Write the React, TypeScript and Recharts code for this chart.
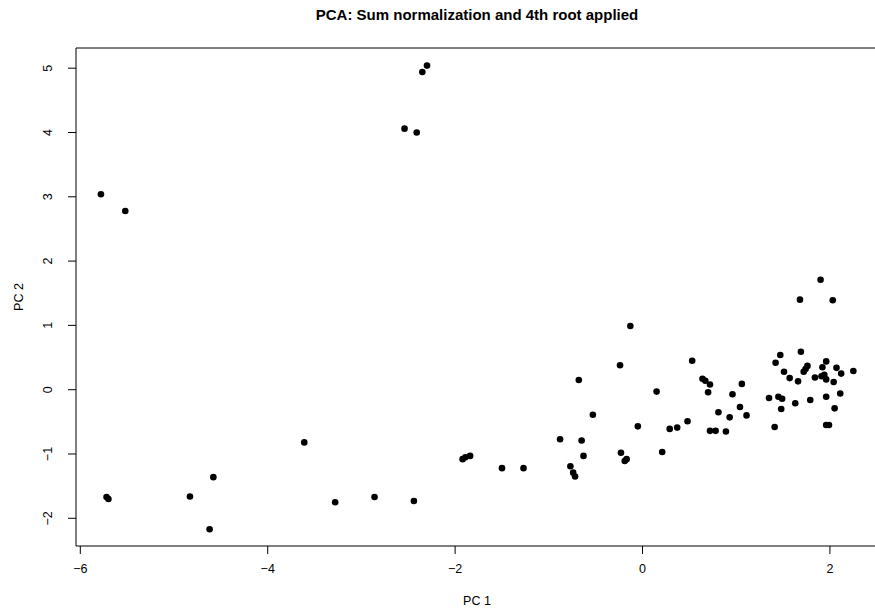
import React from 'react';
import { ScatterChart, Scatter, XAxis, YAxis, ReferenceArea } from 'recharts';

// PCA scores
const pc1 = [
  -5.78, -5.52,
  -2.30, -2.35, -2.54, -2.41,
  -5.72, -5.70, -4.83, -4.58, -4.62, -3.61, -3.28, -2.86, -2.44, -1.92, -1.89, -1.84, -1.50, -1.27,
  -0.88, -0.77, -0.74, -0.72, -0.68, -0.65, -0.63, -0.53, -0.24, -0.23, -0.19, -0.17, -0.13, -0.05,
  0.15, 0.21, 0.29, 0.37, 0.48, 0.53, 0.64, 0.67, 0.70, 0.72, 0.72, 0.78, 0.81, 0.89, 0.93, 0.96,
  1.04, 1.06, 1.11,
  1.35, 1.41, 1.42, 1.45, 1.47, 1.48, 1.49, 1.51, 1.57, 1.63, 1.66, 1.68, 1.69, 1.72, 1.74, 1.76,
  1.79, 1.84, 1.90, 1.91, 1.92, 1.94, 1.96, 1.96, 1.96, 1.96, 1.99, 2.03, 2.04, 2.05, 2.07, 2.11,
  2.12, 2.25,
];
const pc2 = [
  3.04, 2.78,
  5.04, 4.94, 4.06, 4.00,
  -1.67, -1.70, -1.66, -1.36, -2.17, -0.82, -1.75, -1.67, -1.73, -1.08, -1.05, -1.03, -1.22, -1.22,
  -0.77, -1.19, -1.29, -1.35, 0.15, -0.79, -1.03, -0.39, 0.38, -0.98, -1.11, -1.08, 0.99, -0.57,
  -0.03, -0.97, -0.61, -0.59, -0.49, 0.45, 0.17, 0.14, -0.04, 0.08, -0.64, -0.64, -0.35, -0.65, -0.43, -0.07,
  -0.27, 0.09, -0.40,
  -0.13, -0.58, 0.42, -0.11, 0.54, -0.30, -0.14, 0.28, 0.18, -0.21, 0.13, 1.40, 0.59, 0.28, 0.32, 0.37,
  -0.16, 0.19, 1.71, 0.21, 0.35, 0.23, 0.44, 0.16, -0.11, -0.55, -0.55, 1.39, 0.12, -0.29, 0.34, -0.06,
  0.25, 0.29,
];

const xTicks = [-6, -4, -2, 0, 2];
const yTicks = [-2, -1, 0, 1, 2, 3, 4, 5];
const xDomain = [-6.046, 2.513];
const yDomain = [-2.431, 5.314];

const points = pc1.map((x, i) => ({ x, y: pc2[i] }));

const FONT = '"Liberation Sans", Arial, Helvetica, sans-serif';
const fmt = (v: number) => (v < 0 ? '\u2212' + Math.abs(v) : String(v));

const XTick = ({ x, payload }: any) => (
  <text x={x} y={572.5} textAnchor="middle" fontSize={12.5} fontFamily={FONT} fill="#000">
    {fmt(payload.value)}
  </text>
);

const YTick = ({ y, payload }: any) => (
  <text x={52.5} y={y} transform={`rotate(-90 52.5 ${y})`} textAnchor="middle" fontSize={12.5} fontFamily={FONT} fill="#000">
    {fmt(payload.value)}
  </text>
);

const Dot = (props: any) => <circle cx={props.cx} cy={props.cy} r={3.3} fill="#000" />;

export default function App() {
  return (
    <div style={{ position: 'absolute', left: 0, top: 0, width: 875, height: 612, overflow: 'hidden', background: '#fff' }}>
      <ScatterChart width={890} height={612} margin={{ top: 48, right: 12, bottom: 0, left: 0 }}>
        <XAxis
          type="number"
          dataKey="x"
          domain={xDomain}
          ticks={xTicks}
          allowDataOverflow
          axisLine={false}
          tickLine={{ stroke: '#000' }}
          tickSize={8}
          height={66}
          tick={<XTick />}
        />
        <YAxis
          type="number"
          dataKey="y"
          domain={yDomain}
          ticks={yTicks}
          allowDataOverflow
          axisLine={false}
          tickLine={{ stroke: '#000' }}
          tickSize={8}
          width={76}
          tick={<YTick />}
        />
        <ReferenceArea x1={xDomain[0]} x2={xDomain[1]} y1={yDomain[0]} y2={yDomain[1]} fill="none" stroke="#000" strokeOpacity={1} fillOpacity={0} />
        <Scatter data={points} shape={<Dot />} isAnimationActive={false} />
      </ScatterChart>
      <div style={{ position: 'absolute', left: 0, width: 954, top: 5, lineHeight: '20px', textAlign: 'center', fontFamily: FONT, fontWeight: 'bold', fontSize: 15 }}>
        PCA: Sum normalization and 4th root applied
      </div>
      <div style={{ position: 'absolute', left: 0, width: 954, top: 591, lineHeight: '20px', textAlign: 'center', fontFamily: FONT, fontSize: 12.5 }}>
        PC 1
      </div>
      <div style={{ position: 'absolute', left: 19, top: 297, transform: 'translate(-50%, -50%) rotate(-90deg)', whiteSpace: 'nowrap', lineHeight: '20px', fontFamily: FONT, fontSize: 12.5 }}>
        PC 2
      </div>
    </div>
  );
}
